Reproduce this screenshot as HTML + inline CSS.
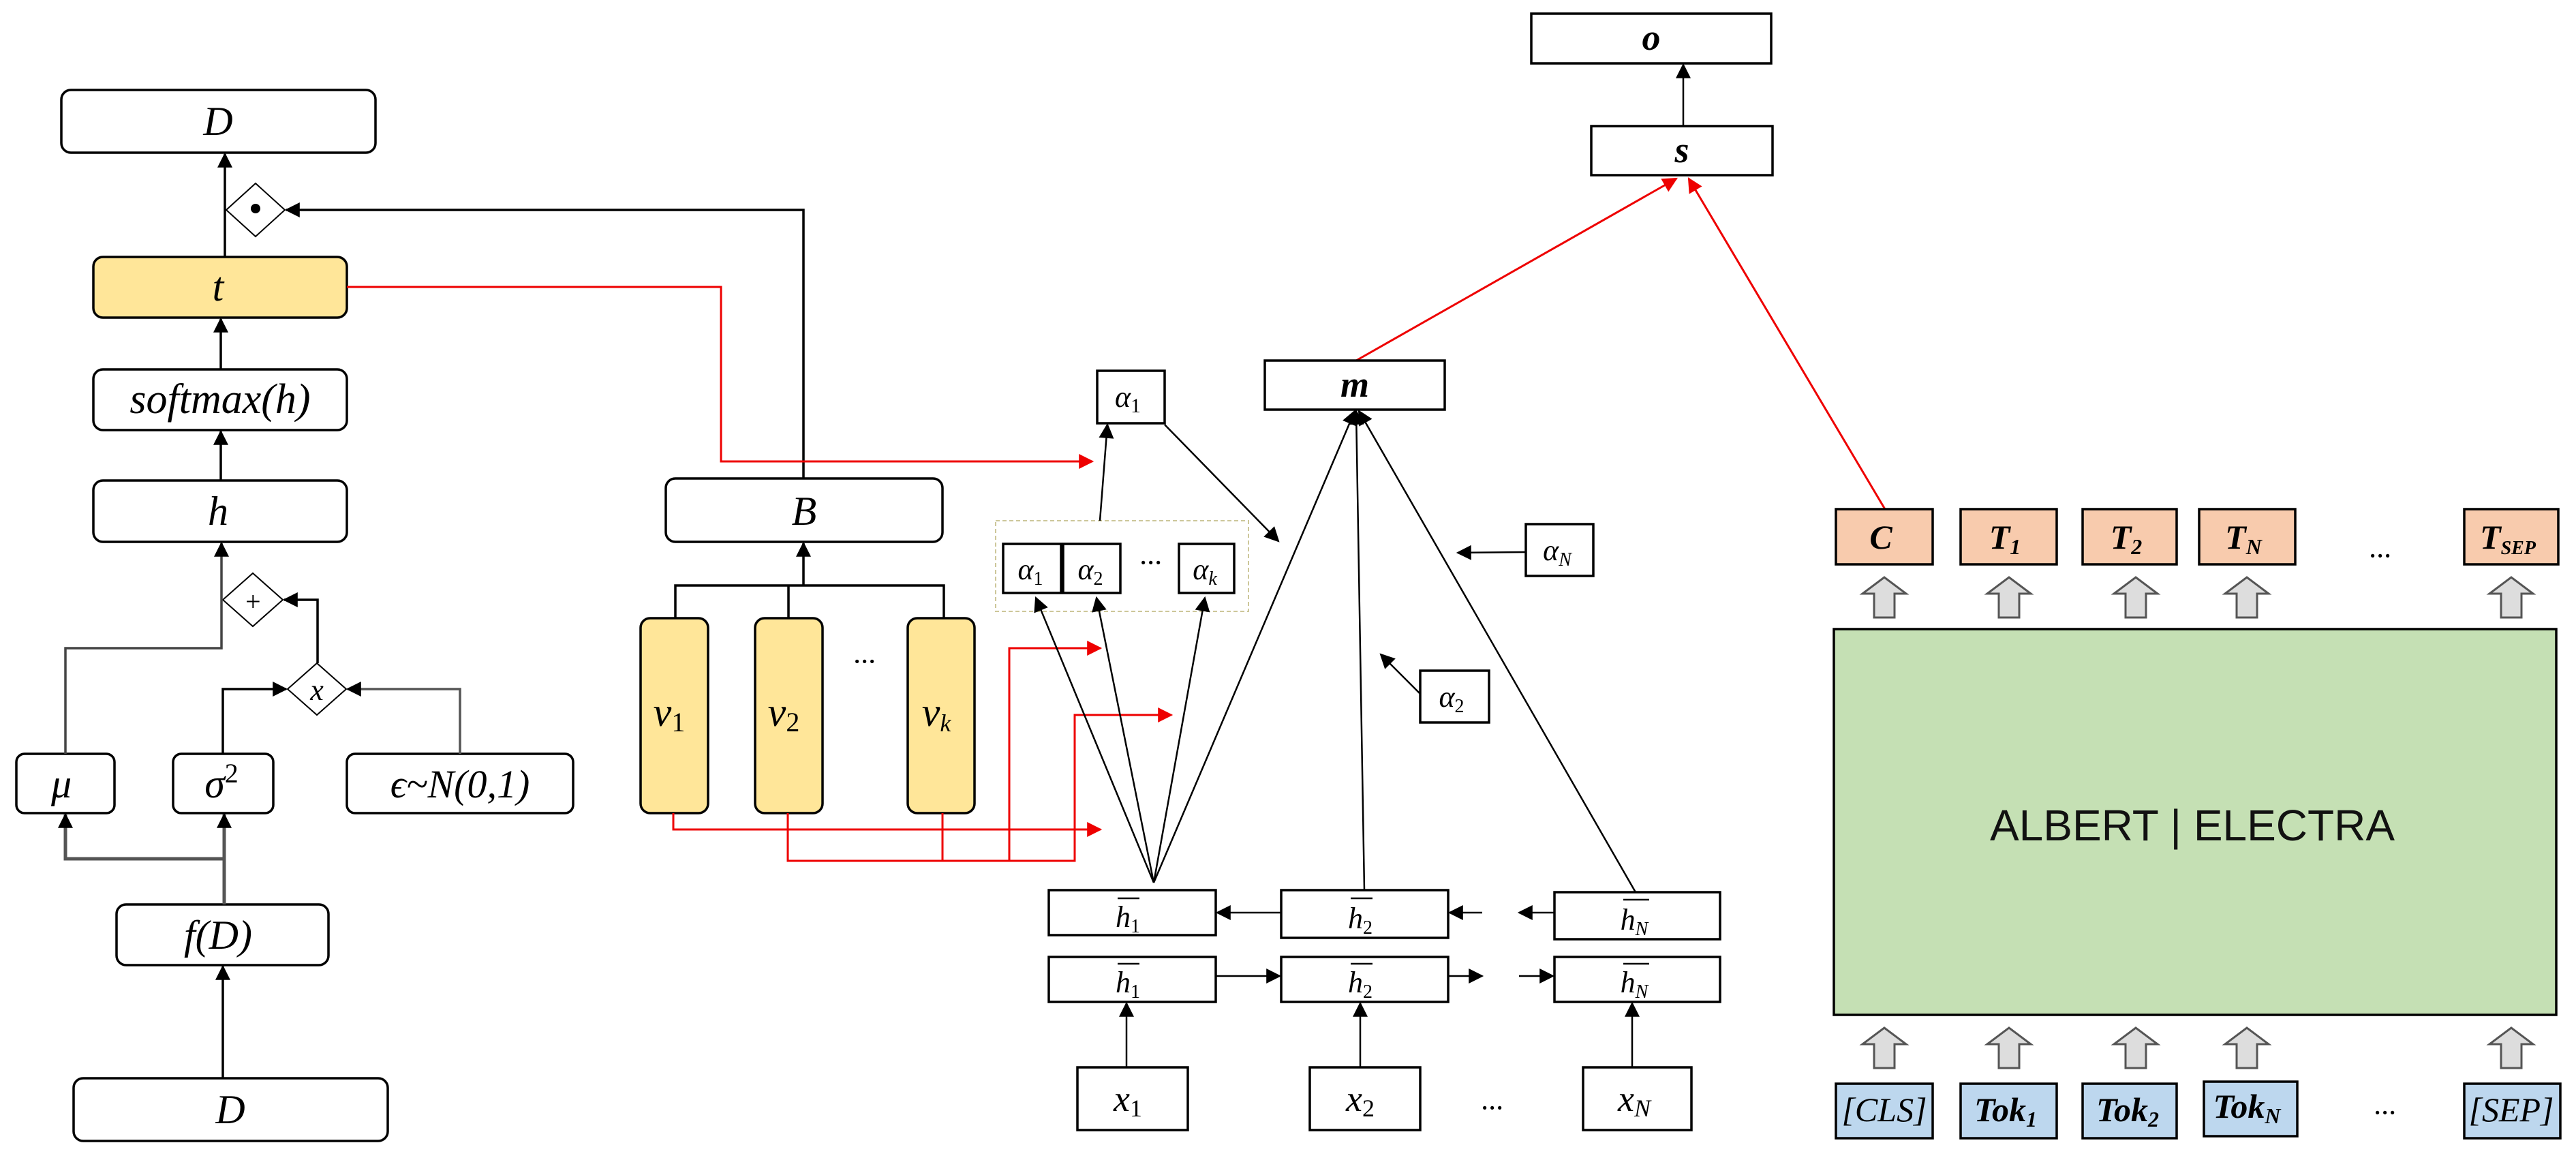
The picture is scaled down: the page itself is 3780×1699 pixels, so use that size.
<!DOCTYPE html>
<html><head><meta charset="utf-8"><style>
html,body{margin:0;padding:0;background:#fff;}
svg{display:block;}
text{font-family:"Liberation Serif",serif;font-style:italic;}
</style></head><body>
<svg width="3780" height="1699" viewBox="0 0 3780 1699" xmlns="http://www.w3.org/2000/svg">
<defs>
<marker id="k" viewBox="0 0 10 10" refX="9" refY="5" markerWidth="26" markerHeight="22" markerUnits="userSpaceOnUse" orient="auto"><path d="M0,0L10,5L0,10z" fill="#000"/></marker>
<marker id="r" viewBox="0 0 10 10" refX="9" refY="5" markerWidth="28" markerHeight="22" markerUnits="userSpaceOnUse" orient="auto"><path d="M0,0L10,5L0,10z" fill="#e00"/></marker>
<g id="blk"><path d="M-15,59 L-15,24 L-32,24 L0,0 L32,24 L15,24 L15,59 Z" fill="#ddd" stroke="#555" stroke-width="3"/></g>
</defs>
<g fill="none" stroke="#000" stroke-width="3.5">
<rect x="90" y="132" width="461" height="92" rx="14"/>
<rect x="137" y="377" width="372" height="89" rx="14" fill="#FFE699"/>
<rect x="137" y="542" width="372" height="89" rx="14"/>
<rect x="137" y="705" width="372" height="90" rx="14"/>
<rect x="24" y="1106" width="144" height="87" rx="12"/>
<rect x="254" y="1106" width="147" height="87" rx="12"/>
<rect x="509" y="1106" width="332" height="87" rx="12"/>
<rect x="171" y="1327" width="311" height="89" rx="14"/>
<rect x="108" y="1582" width="461" height="92" rx="14"/>
<path d="M332,308 L375,269 L418,308 L375,347 Z" stroke-width="2"/>
<path d="M327,880 L371,841 L415,880 L371,919 Z" stroke-width="2"/>
<path d="M422,1011 L465,973 L508,1011 L465,1049 Z" stroke-width="2"/>
<line x1="330" y1="377" x2="330" y2="226" marker-end="url(#k)"/>
<polyline points="1179,702 1179,308 420,308" marker-end="url(#k)"/>
<line x1="324" y1="542" x2="324" y2="468" marker-end="url(#k)"/>
<line x1="324" y1="705" x2="324" y2="633" marker-end="url(#k)"/>
<polyline points="96,1106 96,951 325,951 325,797" stroke="#444" marker-end="url(#k)"/>
<polyline points="466,973 466,880 417,880" marker-end="url(#k)"/>
<polyline points="327,1106 327,1011 420,1011" marker-end="url(#k)"/>
<polyline points="675,1106 675,1011 510,1011" stroke="#555" marker-end="url(#k)"/>
<line x1="329" y1="1327" x2="329" y2="1195" stroke="#555" stroke-width="5" marker-end="url(#k)"/>
<polyline points="329,1260 96,1260 96,1195" stroke="#555" stroke-width="5" marker-end="url(#k)"/>
<line x1="327" y1="1582" x2="327" y2="1418" marker-end="url(#k)"/>
<rect x="977" y="702" width="406" height="93" rx="14"/>
<rect x="940" y="907" width="99" height="286" rx="14" fill="#FFE699"/>
<rect x="1108" y="907" width="99" height="286" rx="14" fill="#FFE699"/>
<rect x="1332" y="907" width="98" height="286" rx="14" fill="#FFE699"/>
<polyline points="991,907 991,859 1385,859 1385,907"/>
<line x1="1157" y1="859" x2="1157" y2="907"/>
<line x1="1179" y1="859" x2="1179" y2="797" marker-end="url(#k)"/>
</g>
<g fill="none" stroke="#e00" stroke-width="3">
<polyline points="509,421 1058,421 1058,677 1603,677" marker-end="url(#r)"/>
<polyline points="988,1193 988,1217 1615,1217" marker-end="url(#r)"/>
<polyline points="1156,1193 1156,1263 1577,1263 1577,1049 1719,1049" marker-end="url(#r)"/>
<polyline points="1383,1193 1383,1263"/>
<polyline points="1481,1263 1481,951 1615,951" marker-end="url(#r)"/>
<line x1="1990" y1="529" x2="2460" y2="262" marker-end="url(#r)"/>
<line x1="2766" y1="747" x2="2478" y2="262" marker-end="url(#r)"/>
</g>
<g fill="none" stroke="#000" stroke-width="3.5">
<rect x="1461" y="764" width="371" height="133" stroke="#cdc79a" stroke-dasharray="6,4" stroke-width="2"/>
<rect x="1610" y="544" width="99" height="77"/>
<rect x="1472" y="798" width="85" height="72"/>
<rect x="1560" y="798" width="84" height="72"/>
<rect x="1730" y="798" width="81" height="72"/>
<rect x="1856" y="529" width="264" height="72"/>
<rect x="2335" y="185" width="266" height="72"/>
<rect x="2247" y="20" width="352" height="73"/>
<rect x="2239" y="769" width="99" height="76"/>
<rect x="2084" y="984" width="101" height="76"/>
<rect x="1539" y="1306" width="245" height="66"/>
<rect x="1880" y="1306" width="245" height="70"/>
<rect x="2281" y="1309" width="243" height="69"/>
<rect x="1539" y="1404" width="245" height="66"/>
<rect x="1880" y="1404" width="245" height="66"/>
<rect x="2281" y="1404" width="243" height="66"/>
<rect x="1581" y="1566" width="162" height="92"/>
<rect x="1922" y="1566" width="162" height="92"/>
<rect x="2323" y="1566" width="159" height="92"/>
<g stroke-width="2.5">
<line x1="1614" y1="764" x2="1625" y2="623" marker-end="url(#k)"/>
<line x1="1709" y1="623" x2="1876" y2="794" marker-end="url(#k)"/>
<line x1="2470" y1="185" x2="2470" y2="95" marker-end="url(#k)"/>
<line x1="1693" y1="1295" x2="1520" y2="877" marker-end="url(#k)"/>
<line x1="1693" y1="1295" x2="1609" y2="877" marker-end="url(#k)"/>
<line x1="1693" y1="1295" x2="1768" y2="877" marker-end="url(#k)"/>
<line x1="1693" y1="1295" x2="1988" y2="603" marker-end="url(#k)"/>
<line x1="2002" y1="1306" x2="1990" y2="603" marker-end="url(#k)"/>
<line x1="2400" y1="1309" x2="1994" y2="603" marker-end="url(#k)"/>
<line x1="2239" y1="810" x2="2139" y2="811" marker-end="url(#k)"/>
<line x1="2084" y1="1018" x2="2026" y2="960" marker-end="url(#k)"/>
<line x1="1880" y1="1339" x2="1786" y2="1339" marker-end="url(#k)"/>
<line x1="2175" y1="1339" x2="2127" y2="1339" marker-end="url(#k)"/>
<line x1="2281" y1="1339" x2="2229" y2="1339" marker-end="url(#k)"/>
<line x1="1784" y1="1432" x2="1878" y2="1432" marker-end="url(#k)"/>
<line x1="2125" y1="1432" x2="2175" y2="1432" marker-end="url(#k)"/>
<line x1="2229" y1="1432" x2="2279" y2="1432" marker-end="url(#k)"/>
<line x1="1653" y1="1566" x2="1653" y2="1472" marker-end="url(#k)"/>
<line x1="1996" y1="1566" x2="1996" y2="1472" marker-end="url(#k)"/>
<line x1="2395" y1="1566" x2="2395" y2="1472" marker-end="url(#k)"/>
</g>
<rect x="2691" y="923" width="1060" height="566" fill="#C5E0B4"/>
<g fill="#F8CBAD">
<rect x="2694" y="747" width="142" height="81"/><rect x="2877" y="747" width="141" height="81"/>
<rect x="3056" y="747" width="138" height="81"/><rect x="3227" y="747" width="141" height="81"/>
<rect x="3616" y="747" width="138" height="81"/></g>
<g fill="#BDD7EE">
<rect x="2694" y="1590" width="142" height="80"/><rect x="2877" y="1590" width="141" height="80"/>
<rect x="3056" y="1590" width="138" height="80"/><rect x="3234" y="1587" width="137" height="80"/>
<rect x="3616" y="1590" width="141" height="80"/></g>
</g>
<g>
<use href="#blk" x="2765" y="847"/><use href="#blk" x="2948" y="847"/><use href="#blk" x="3134" y="847"/><use href="#blk" x="3297" y="847"/><use href="#blk" x="3685" y="847"/>
<use href="#blk" x="2765" y="1508"/><use href="#blk" x="2948" y="1508"/><use href="#blk" x="3134" y="1508"/><use href="#blk" x="3297" y="1508"/><use href="#blk" x="3685" y="1508"/>
</g>
<g font-size="60" text-anchor="middle" fill="#000">
<text x="320" y="198">D</text>
<circle cx="375" cy="306" r="7" fill="#000"/>
<text x="320" y="441">t</text>
<text x="323" y="606" font-size="62">softmax(h)</text>
<text x="320" y="770">h</text>
<text x="371" y="896" font-size="40" font-style="normal">+</text>
<text x="465" y="1027" font-size="44" font-style="normal">x</text>
<text x="90" y="1170">μ</text>
<text x="325" y="1170">σ<tspan font-size="40" dy="-22" font-style="normal">2</tspan></text>
<text x="675" y="1170" font-size="58">ϵ~N(0,1)</text>
<text x="320" y="1392">f(D)</text>
<text x="338" y="1648">D</text>
<text x="1180" y="770">B</text>
<text x="982" y="1065">v<tspan font-size="40" font-style="normal" dy="8">1</tspan></text>
<text x="1150" y="1065">v<tspan font-size="40" font-style="normal" dy="8">2</tspan></text>
<text x="1374" y="1065">v<tspan font-size="36" dy="8">k</tspan></text>
<text x="1268" y="985" font-size="44" font-style="normal">···</text>
</g>
<g font-size="44" text-anchor="middle" fill="#000">
<text x="1655" y="597">α<tspan font-size="30" font-style="normal" dy="8">1</tspan></text>
<text x="1512" y="850">α<tspan font-size="28" font-style="normal" dy="8">1</tspan></text>
<text x="1600" y="850">α<tspan font-size="28" font-style="normal" dy="8">2</tspan></text>
<text x="1768" y="850">α<tspan font-size="28" dy="8">k</tspan></text>
<text x="1688" y="840" font-style="normal">···</text>
<text x="2285" y="822">α<tspan font-size="28" dy="8">N</tspan></text>
<text x="2130" y="1037">α<tspan font-size="28" font-style="normal" dy="8">2</tspan></text>
<text x="1988" y="582" font-weight="bold" font-size="54">m</text>
<text x="2468" y="238" font-weight="bold" font-size="54">s</text>
<text x="2423" y="73" font-weight="bold" font-size="54">o</text>
<text x="1655" y="1360">h<tspan font-size="28" font-style="normal" dy="8">1</tspan></text>
<text x="1996" y="1362">h<tspan font-size="28" font-style="normal" dy="8">2</tspan></text>
<text x="2398" y="1364">h<tspan font-size="28" dy="8">N</tspan></text>
<text x="1655" y="1456">h<tspan font-size="28" font-style="normal" dy="8">1</tspan></text>
<text x="1996" y="1456">h<tspan font-size="28" font-style="normal" dy="8">2</tspan></text>
<text x="2398" y="1456">h<tspan font-size="28" dy="8">N</tspan></text>
<text x="1655" y="1630" font-size="54">x<tspan font-size="36" font-style="normal" dy="8">1</tspan></text>
<text x="1996" y="1630" font-size="54">x<tspan font-size="36" font-style="normal" dy="8">2</tspan></text>
<text x="2398" y="1630" font-size="54">x<tspan font-size="36" dy="8">N</tspan></text>
<text x="2189" y="1640" font-style="normal">···</text>
<text x="3492" y="830" font-style="normal">···</text>
<text x="3499" y="1647" font-style="normal">···</text>
</g>
<g stroke="#000" stroke-width="2.5">
<line x1="1640" y1="1318" x2="1672" y2="1318"/><line x1="1982" y1="1318" x2="2014" y2="1318"/><line x1="2382" y1="1320" x2="2420" y2="1320"/>
<line x1="1640" y1="1414" x2="1672" y2="1414"/><line x1="1982" y1="1414" x2="2014" y2="1414"/><line x1="2382" y1="1414" x2="2420" y2="1414"/>
</g>
<g font-size="50" font-weight="bold" text-anchor="middle" fill="#000">
<text x="2760" y="805">C</text>
<text x="2942" y="805">T<tspan font-size="32" dy="8">1</tspan></text>
<text x="3120" y="805">T<tspan font-size="32" dy="8">2</tspan></text>
<text x="3292" y="805">T<tspan font-size="32" dy="8">N</tspan></text>
<text x="3680" y="805">T<tspan font-size="28" dy="8">SEP</tspan></text>
<text x="2765" y="1645" font-weight="normal">[CLS]</text>
<text x="2943" y="1645">Tok<tspan font-size="32" dy="8">1</tspan></text>
<text x="3122" y="1645">Tok<tspan font-size="32" dy="8">2</tspan></text>
<text x="3297" y="1640">Tok<tspan font-size="32" dy="8">N</tspan></text>
<text x="3685" y="1645" font-weight="normal">[SEP]</text>
</g>
<text x="3217" y="1233" font-size="64" text-anchor="middle" fill="#111" style="font-family:'Liberation Sans',sans-serif;font-style:normal">ALBERT | ELECTRA</text>
</svg>
</body></html>
